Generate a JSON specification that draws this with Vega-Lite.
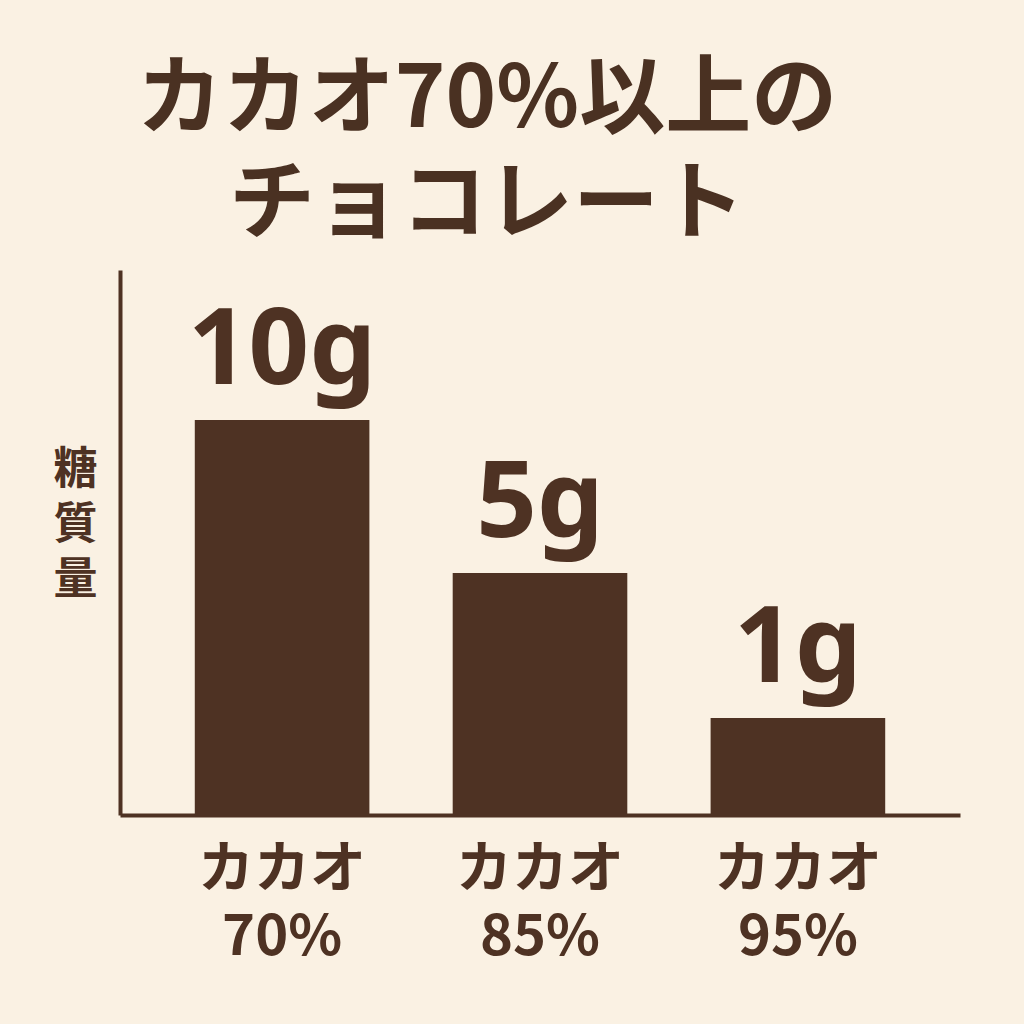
{
  "$schema": "https://vega.github.io/schema/vega-lite/v6.json",
  "width": 840,
  "height": 545,
  "autosize": {"type": "none"},
  "padding": {"left": 120, "top": 270, "right": 64, "bottom": 209},
  "background": "#faf1e3",
  "config": {"view": {"stroke": null}, "font": "Noto Sans CJK JP"},
  "title": {
    "text": ["カカオ70%以上の", "チョコレート"],
    "fontSize": 86,
    "fontWeight": "bold",
    "font": "Noto Sans CJK JP",
    "color": "#4a3122",
    "lineHeight": 105,
    "anchor": "middle",
    "frame": "group",
    "dx": -53,
    "offset": 20
  },
  "data": {
    "values": [
      {"cacao": "カカオ70%", "sugar": 10, "label": "10g"},
      {"cacao": "カカオ85%", "sugar": 5, "label": "5g"},
      {"cacao": "カカオ95%", "sugar": 1, "label": "1g"}
    ]
  },
  "encoding": {
    "x": {
      "field": "cacao",
      "type": "nominal",
      "sort": null,
      "scale": {"paddingInner": 0.323, "paddingOuter": 0.29},
      "axis": {
        "title": null,
        "domainColor": "#4e3223",
        "domainWidth": 4,
        "ticks": false,
        "labelAngle": 0,
        "labelFontSize": 56,
        "labelFont": "Noto Sans CJK JP",
        "labelFontWeight": "bold",
        "labelColor": "#4e3223",
        "labelPadding": 27,
        "labelLineHeight": 68,
        "labelOverlap": false,
        "labelExpr": "[slice(datum.label, 0, 3), slice(datum.label, 3)]"
      }
    }
  },
  "layer": [
    {
      "mark": {"type": "bar", "color": "#4e3223"},
      "encoding": {
        "y": {
          "field": "sugar",
          "type": "quantitative",
          "scale": {"type": "pow", "exponent": 0.83, "domain": [-0.851, 15.37], "nice": false, "zero": false},
          "axis": {
            "title": ["糖", "質", "量"],
            "titleAngle": 0,
            "titleFontSize": 44,
            "titleFont": "Noto Sans CJK JP",
            "titleFontWeight": "bold",
            "titleColor": "#4e3223",
            "titleLineHeight": 55,
            "titleX": -45,
            "titleY": 200,
            "titleAlign": "center",
            "titleBaseline": "middle",
            "labels": false,
            "ticks": false,
            "grid": false,
            "domainColor": "#4e3223",
            "domainWidth": 4
          }
        },
        "y2": {"datum": -0.851}
      }
    },
    {
      "mark": {
        "type": "text",
        "dy": -36,
        "baseline": "alphabetic",
        "fontSize": 106,
        "fontWeight": "bold",
        "font": "Noto Sans",
        "color": "#4e3223"
      },
      "encoding": {
        "y": {"field": "sugar", "type": "quantitative"},
        "text": {"field": "label"}
      }
    }
  ]
}
